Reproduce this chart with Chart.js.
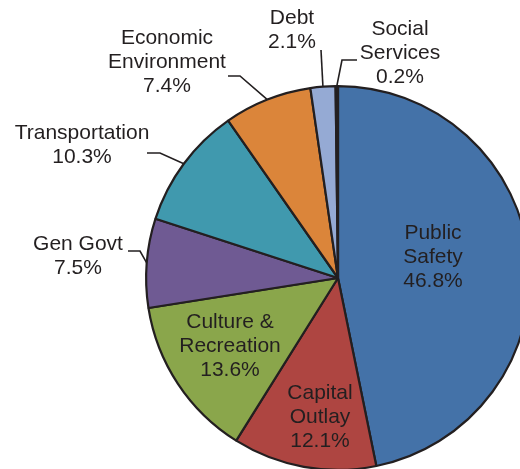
<!DOCTYPE html>
<html>
<head>
<meta charset="utf-8">
<script src="https://cdn.jsdelivr.net/npm/chart.js@4.4.0/dist/chart.umd.min.js"></script>
<style>
  html,body{margin:0;padding:0;background:#fff;}
  #wrap{position:relative;width:520px;height:469px;overflow:hidden;}
  #c{position:absolute;left:0;top:0;}
</style>
</head>
<body>
<div id="wrap"><canvas id="c" width="560" height="500"></canvas></div>
<script>
// data (clockwise from 12 o'clock)
const categories = ['Public Safety','Capital Outlay','Culture & Recreation','Gen Govt','Transportation','Economic Environment','Debt','Social Services'];
const shares = [46.8, 12.1, 13.6, 7.5, 10.3, 7.4, 2.1, 0.2];
const colors = ['#4472a8','#ae4541','#8aa64b','#6f5a93','#4099ae','#db853a','#95aad4','#231f20'];
// how each label is broken into lines
const labelLines = [['Public','Safety'],['Capital','Outlay'],['Culture &','Recreation'],['Gen Govt'],['Transportation'],['Economic','Environment'],['Debt'],['Social','Services']];

// label layout: text centre x, first line y, and leader elbow points (null = inside label)
const layout = [
  {x:433, y:233, lead:null},
  {x:320, y:393, lead:null},
  {x:230, y:322, lead:null},
  {x:78,  y:244, lead:[[140,251],[128,251]]},
  {x:82,  y:133, lead:[[160,153],[147,153]]},
  {x:167, y:38,  lead:[[240,76],[228,76]]},
  {x:292, y:18,  lead:[[321,50]]},
  {x:400, y:29,  lead:[[342,60],[357,60]]}
];
const INK = '#231f20';
const LINE_H = 24.3;

const labelPlugin = {
  id:'sliceLabels',
  afterDatasetsDraw(chart){
    const ctx = chart.ctx;
    const arcs = chart.getDatasetMeta(0).data;
    ctx.save();
    ctx.font = '21px "Liberation Sans", Arial, sans-serif';
    ctx.fillStyle = INK;
    ctx.textAlign = 'center';
    ctx.textBaseline = 'middle';
    arcs.forEach((arc,i)=>{
      const L = layout[i];
      if(L.lead){
        const mid = (arc.startAngle + arc.endAngle)/2;
        const r = arc.outerRadius;
        ctx.beginPath();
        ctx.moveTo(arc.x + Math.cos(mid)*r, arc.y + Math.sin(mid)*r);
        L.lead.forEach(p=>ctx.lineTo(p[0],p[1]));
        ctx.strokeStyle = INK;
        ctx.lineWidth = 1.6;
        ctx.stroke();
      }
      const lines = labelLines[i].concat([shares[i].toFixed(1)+'%']);
      lines.forEach((t,k)=>ctx.fillText(t, L.x, L.y + k*LINE_H));
    });
    ctx.restore();
  }
};

new Chart(document.getElementById('c'),{
  type:'pie',
  data:{
    labels:categories,
    datasets:[{data:shares, backgroundColor:colors, borderColor:INK, borderWidth:2.2}]
  },
  options:{
    responsive:false,
    animation:false,
    layout:{padding:{left:145, top:85, right:29, bottom:29}},
    plugins:{legend:{display:false}, tooltip:{enabled:false}}
  },
  plugins:[labelPlugin]
});
</script>
</body>
</html>
